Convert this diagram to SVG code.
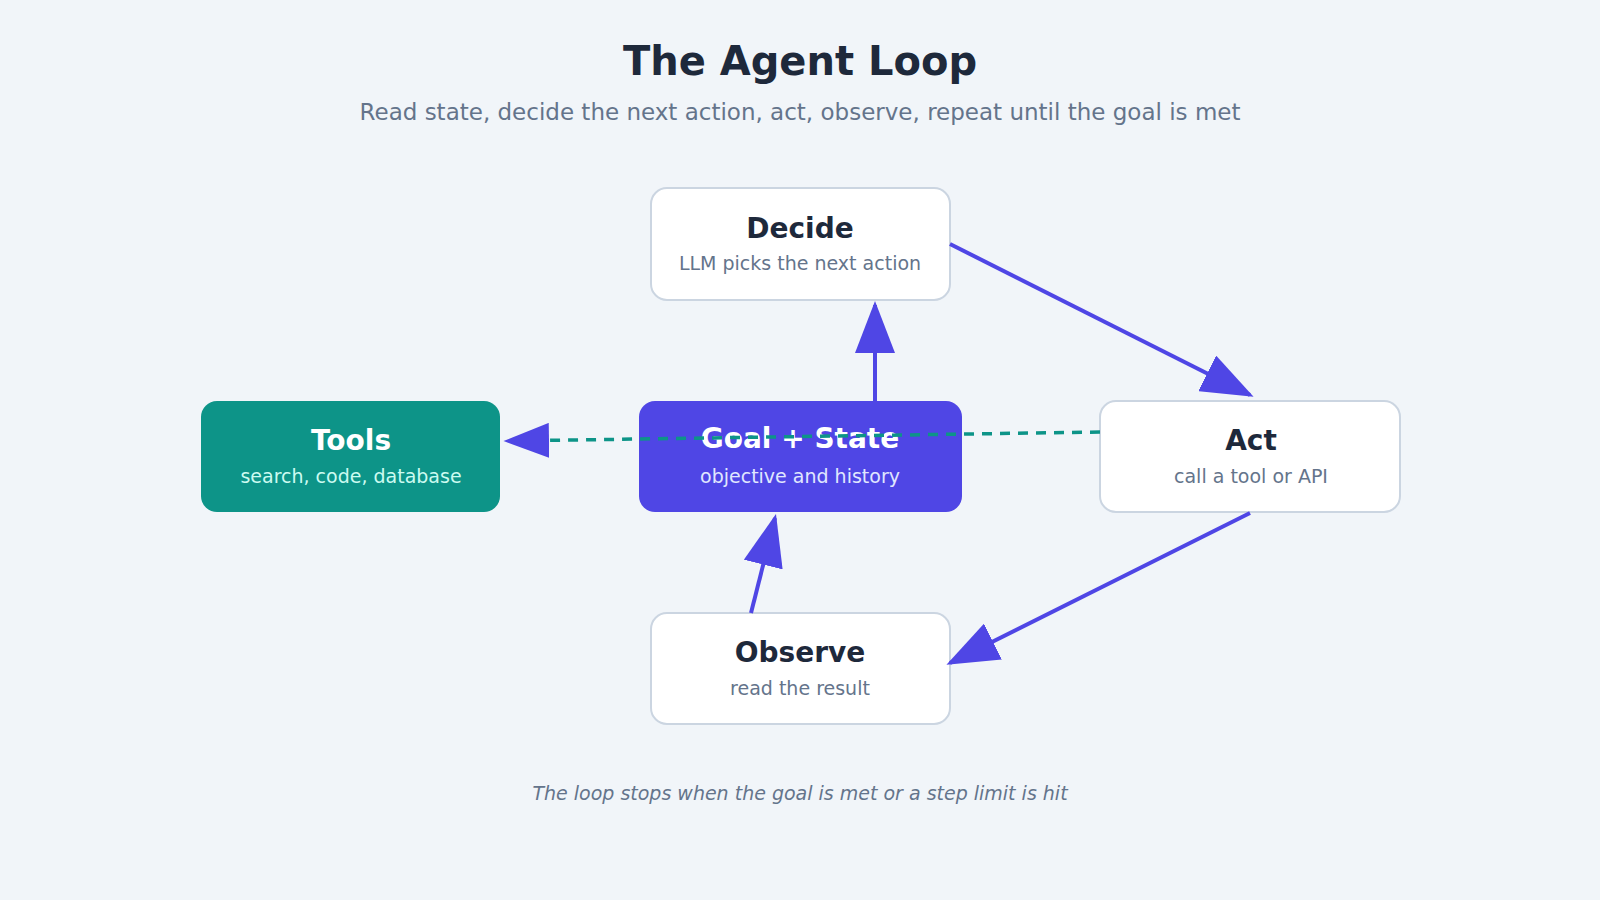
<svg xmlns="http://www.w3.org/2000/svg" width="1600" height="900" viewBox="0 0 1600 900">
<style>
text{font-family:"DejaVu Sans","Noto Sans",sans-serif;text-anchor:middle}
.box{fill:#fff;stroke:#cbd5e1;stroke-width:2}
.t{font-size:28px;font-weight:bold;fill:#1e293b}
.s{font-size:19px;fill:#64748b}
.c{fill:none;stroke:#4f46e5;stroke-width:4}
</style>
<defs>
<marker id="ah" markerWidth="13" markerHeight="10" refX="12" refY="5" orient="auto" markerUnits="strokeWidth"><path d="M0,0L13,5L0,10Z" fill="#4f46e5"/></marker>
</defs>
<rect width="1600" height="900" fill="#f1f5f9"/>
<text x="800" y="75" font-size="40" font-weight="bold" fill="#1e293b">The Agent Loop</text>
<text x="800" y="120" font-size="23" fill="#64748b">Read state, decide the next action, act, observe, repeat until the goal is met</text>
<g id="decide"><rect class="box" x="651" y="188" width="299" height="112" rx="16"/><text class="t" x="800" y="238">Decide</text><text class="s" x="800" y="270">LLM picks the next action</text></g>
<g id="tools"><rect x="201" y="401" width="299" height="111" rx="16" fill="#0d9488"/><text class="t" x="351" y="450" fill="#fff" style="fill:#fff">Tools</text><text class="s" x="351" y="483" style="fill:#ccfbf1">search, code, database</text></g>
<g id="goal"><rect x="639" y="401" width="323" height="111" rx="16" fill="#4f46e5"/><text class="t" x="800" y="448" style="fill:#fff">Goal + State</text><text class="s" x="800" y="483" style="fill:#e0e7ff">objective and history</text></g>
<g id="act"><rect class="box" x="1100" y="401" width="300" height="111" rx="16"/><text class="t" x="1251" y="450">Act</text><text class="s" x="1251" y="483">call a tool or API</text></g>
<g id="observe"><rect class="box" x="651" y="613" width="299" height="111" rx="16"/><text class="t" x="800" y="662">Observe</text><text class="s" x="800" y="695">read the result</text></g>
<g id="connectors">
<line class="c" x1="950" y1="244" x2="1250" y2="395" marker-end="url(#ah)"/>
<line class="c" x1="875" y1="401" x2="875" y2="305" marker-end="url(#ah)"/>
<line class="c" x1="1250" y1="513" x2="950" y2="663" marker-end="url(#ah)"/>
<line class="c" x1="751" y1="613" x2="775" y2="518" marker-end="url(#ah)"/>
<line class="c" x1="1100" y1="432" x2="507" y2="441" stroke-dasharray="10 8" style="stroke:#0d9488;stroke-width:3.5" marker-end="url(#ah)"/>
</g>
<text x="800" y="800" font-size="19" font-style="italic" fill="#64748b">The loop stops when the goal is met or a step limit is hit</text>
</svg>
